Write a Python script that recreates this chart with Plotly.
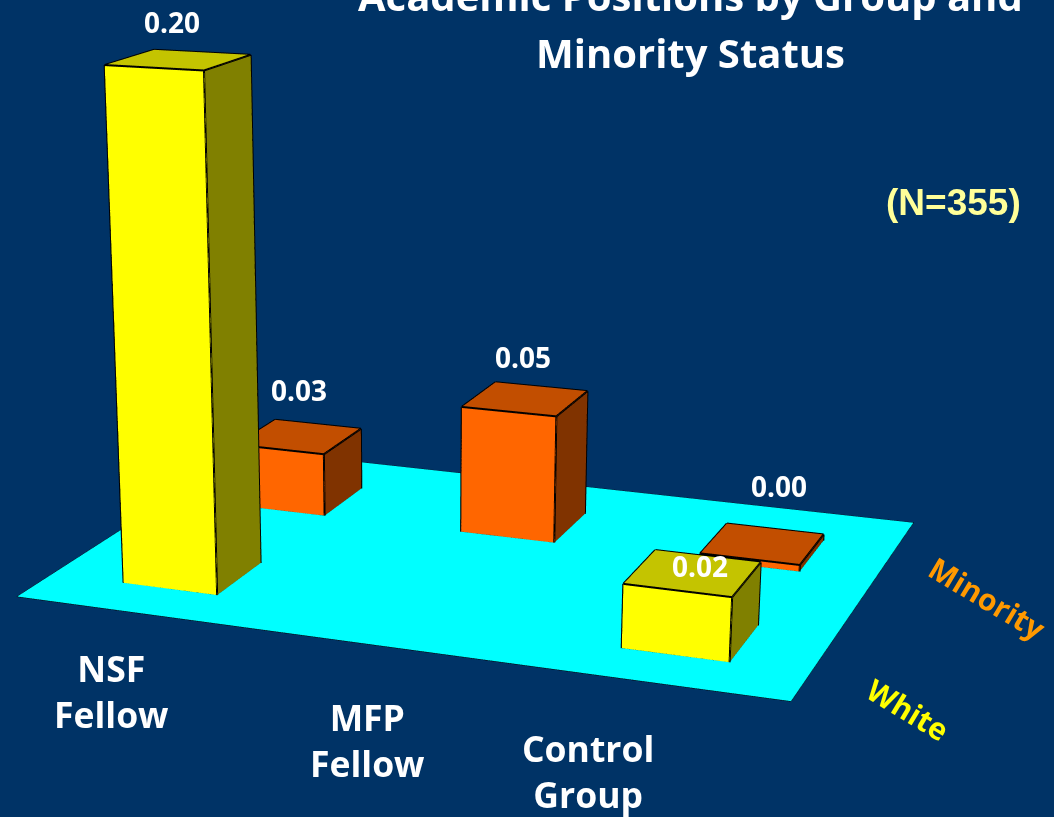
import numpy as np
import plotly.graph_objects as go

# ---- data ----
categories = ["NSF<br>Fellow", "MFP<br>Fellow", "Control<br>Group"]
white_values = [0.200, None, 0.0246]
minority_values = [0.0267, 0.0529, 0.0027]
value_fmt = "{:.2f}"

# ---- style ----
BG = "#003366"
YEL = ("#FFFF00", "#C4C400", "#808000")
ORG = ("#FF6600", "#C24E00", "#803300")
BW, BD, XO, YO = 0.3977, 0.3839, -0.0048, -0.0342
FONT = "Open Sans"

# oblique view of the (category, series, value) box inside the scene
VIEW = np.array([[0.6319, 0.2267, 0.0168 / 0.2],
                 [-0.0869, 0.2231, -0.1530 / 0.2],
                 [-0.0628, 0.1772, 1.2778 / 0.2]])
SHIFT = np.array([-1.2864, 0.0, -0.4781])
EYE_Y = 2.5
FLOOR_X = (-0.012, 2.985)

def view(x, y, z):
    p = VIEW @ np.vstack([x, y, z]) + SHIFT[:, None]
    return p[0].tolist(), p[1].tolist(), p[2].tolist()

FLAT = dict(ambient=1, diffuse=0, specular=0, fresnel=0, roughness=1)
fig = go.Figure()

fx, fy, fz = view([FLOOR_X[0], FLOOR_X[1], FLOOR_X[1], FLOOR_X[0]], [0, 0, 2, 2], [0, 0, 0, 0])
fig.add_trace(go.Mesh3d(x=fx, y=fy, z=fz, i=[0, 0], j=[1, 2], k=[2, 3], color="#00FFFF",
                        flatshading=True, hoverinfo="skip", lighting=FLAT))
fig.add_trace(go.Scatter3d(x=fx + fx[:1], y=fy + fy[:1], z=fz + fz[:1], mode="lines",
                           line=dict(color="black", width=1), hoverinfo="skip"))

def bar(cx, cy, h, cols):
    x0, x1 = cx - BW / 2, cx + BW / 2
    y0, y1 = cy - BD / 2, cy + BD / 2
    X, Y, Z = view([x0, x1, x1, x0, x0, x1, x1, x0], [y0, y0, y1, y1, y0, y0, y1, y1], [0, 0, 0, 0, h, h, h, h])
    I = [0, 0, 4, 4, 1, 1, 0, 0, 3, 3]
    J = [1, 5, 5, 6, 2, 6, 3, 7, 2, 6]
    K = [5, 4, 6, 7, 6, 5, 7, 4, 6, 7]
    fc = [cols[0]] * 2 + [cols[1]] * 2 + [cols[2]] * 6
    fig.add_trace(go.Mesh3d(x=X, y=Y, z=Z, i=I, j=J, k=K, facecolor=fc, flatshading=True,
                            hoverinfo="skip", lighting=FLAT))
    ex, ey, ez = [], [], []
    for a, b in [(0, 1), (1, 2), (4, 5), (5, 6), (6, 7), (7, 4), (0, 4), (1, 5), (2, 6), (3, 7)]:
        ex += [X[a], X[b], None]
        ey += [Y[a], Y[b], None]
        ez += [Z[a], Z[b], None]
    fig.add_trace(go.Scatter3d(x=ex, y=ey, z=ez, mode="lines", line=dict(color="black", width=4), hoverinfo="skip"))

# label offsets from the bar-top centre, in pixels: (series, category) -> (right, up)
LABEL_OFFSET = {(1, 0): (0, 47), (1, 1): (-2, 42), (1, 2): (16, 58), (0, 0): (-6, 38), (0, 2): (7, 7)}
sann = []
for idx in range(3):
    for ser, vals, cols in [(1, minority_values, ORG), (0, white_values, YEL)]:
        v = vals[idx]
        if v is None:
            continue
        cx, cy = idx + 0.5 + XO, ser + 0.5 + YO
        bar(cx, cy, v, cols)
        ax_, ay_, az_ = view([cx], [cy], [v])
        dx, dy = LABEL_OFFSET[(ser, idx)]
        sann.append(dict(x=ax_[0], y=ay_[0], z=az_[0], text=value_fmt.format(v), showarrow=False,
                         xshift=dx, yshift=dy, xanchor="center", yanchor="middle",
                         font=dict(family=FONT, size=28, color="white", weight="bold")))

axis = dict(visible=False, showgrid=False, zeroline=False, showbackground=False)
rng = [-1.5, 1.5]
fig.update_layout(
    width=1054, height=817, margin=dict(l=0, r=0, t=0, b=0), paper_bgcolor=BG, showlegend=False,
    scene=dict(domain=dict(x=[0, 1], y=[0, 1]),
               xaxis=dict(axis, range=rng), yaxis=dict(axis, range=rng), zaxis=dict(axis, range=rng),
               aspectmode="manual", aspectratio=dict(x=3, y=3, z=3),
               camera=dict(eye=dict(x=0, y=-EYE_Y, z=0), center=dict(x=0, y=0, z=0), up=dict(x=0, y=0, z=1)),
               annotations=sann))

cat_font = dict(family=FONT, size=35.5, color="white", weight="bold")
title_font = dict(family=FONT, size=40, color="white", weight="bold")
texts = [
    (111, 691, categories[0], 0, cat_font),
    (367, 740, categories[1], 0, cat_font),
    (588, 771, categories[2], 0, cat_font),
    (690, -4, "Academic Positions by Group and", 0, title_font),
    (690, 52, "Minority Status", 0, title_font),
    (953, 202, "(N=355)", 0, dict(family="Liberation Sans", size=37, color="#FFFF99", weight="bold")),
    (988, 598, "Minority", 31, dict(family=FONT, size=30, color="#FF9900", weight="bold")),
    (908, 709, "White", 31, dict(family=FONT, size=30, color="#FFFF00", weight="bold")),
]
for xp, yp, t, ang, f in texts:
    fig.add_annotation(xref="paper", yref="paper", x=xp / 1054, y=1 - yp / 817, showarrow=False,
                       xanchor="center", yanchor="middle", text=t, font=f, textangle=ang)

fig.write_html("out.html", config={"displayModeBar": False},
               post_script="document.body.style.margin='0';document.body.style.background='#003366';")
